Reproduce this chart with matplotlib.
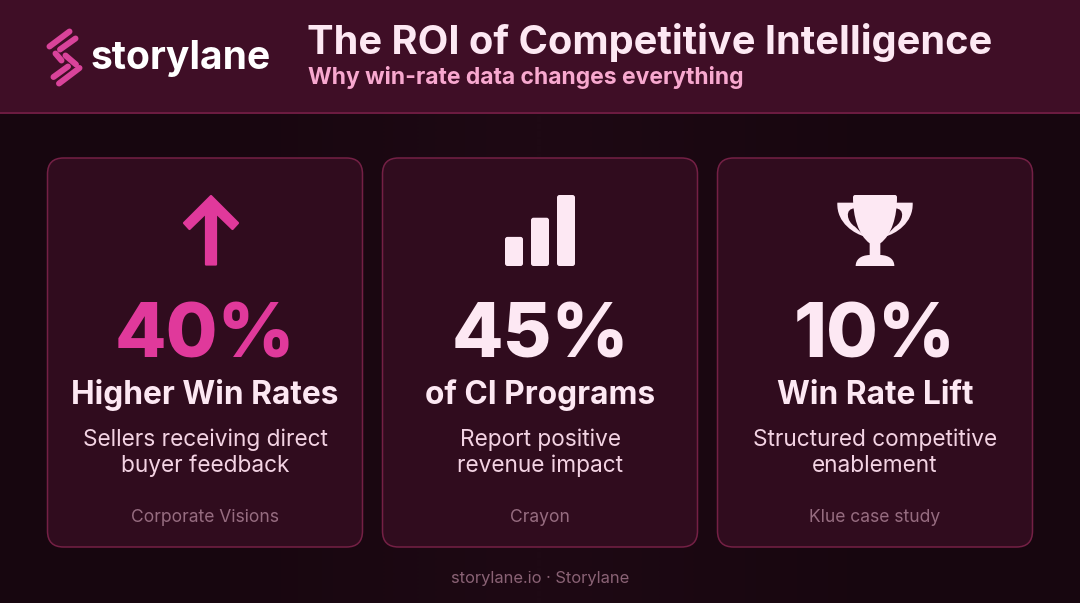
import matplotlib
matplotlib.use("Agg")
import matplotlib.pyplot as plt
import numpy as np
from matplotlib.colors import LinearSegmentedColormap
from matplotlib.patches import FancyBboxPatch, Polygon, PathPatch, Rectangle
from matplotlib.path import Path

plt.rcParams['font.family'] = ['Inter', 'DejaVu Sans']

title = "The ROI of Competitive Intelligence"
subtitle = "Why win-rate data changes everything"
brand = "storylane"
footer = "storylane.io · Storylane"
stats = ["40%", "45%", "10%"]
heads = ["Higher Win Rates", "of CI Programs", "Win Rate Lift"]
bodies = ["Sellers receiving direct\nbuyer feedback", "Report positive\nrevenue impact", "Structured competitive\nenablement"]
sources = ["Corporate Visions", "Crayon", "Klue case study"]
icon_bar_levels = [0.41, 0.68, 1.0]

PINK = "#e0399b"
PALE = "#fde8f3"
W, H = 1080, 603
fig = plt.figure(figsize=(W/100, H/100), dpi=100, facecolor="#1a0812")
ax = fig.add_axes([0, 0, 1, 1])
ax.set_xlim(0, W); ax.set_ylim(H, 0); ax.axis("off")

# background + header
ax.imshow(np.array([[0.0, 1.0, 0.0]]), extent=(0, W, H, 113), aspect="auto", zorder=0,
          interpolation="bilinear",
          cmap=LinearSegmentedColormap.from_list("b", ["#17060f", "#1e0914"]))
ax.set_xlim(0, W); ax.set_ylim(H, 0)
ax.add_patch(Rectangle((0, 0), W, 112, fc="#3f0e26", ec="none", zorder=1))
ax.plot([0, W], [112.5, 112.5], color="#85224f", lw=1.1, zorder=2, solid_capstyle="butt")

# logo
def stroke(x0, y0, x1, y1, c="#d9439a", lw=4.3):
    ax.plot([x0, x1], [y0, y1], color=c, lw=lw, solid_capstyle="round", zorder=3)
stroke(49.5, 46.5, 69.5, 31.5)
stroke(60, 49.5, 75.5, 38.5)
stroke(55.5, 53.5, 61.5, 60.5)
stroke(65.5, 55.5, 76, 64.5)
stroke(53.5, 77, 68, 66.5)
stroke(59, 83.5, 79.5, 68)
ax.text(91, 69, brand, color="white", fontsize=28.1, fontweight="bold", va="baseline", ha="left", zorder=3)

ax.text(307, 54, title, color=PALE, fontsize=28.6, fontweight="bold", va="baseline", ha="left", zorder=3)
ax.text(308, 84, subtitle, color="#f8a8cf", fontsize=16.5, fontweight="bold", va="baseline", ha="left", zorder=3)

# cards
lefts = [47, 382, 717]
card_w, card_top, card_bot = 316, 158, 547
for i, x in enumerate(lefts):
    ax.add_patch(FancyBboxPatch((x + 0.5, card_top), card_w - 1, card_bot - card_top,
                                boxstyle="round,pad=0,rounding_size=16", fc="#300c1e", ec="#742045", lw=1.1, zorder=2))
    cx = x + card_w / 2
    ax.text(cx, 357, stats[i], color=PINK if i == 0 else PALE, fontsize=54, fontweight="heavy",
            va="baseline", ha="center", zorder=3)
    ax.text(cx, 404, heads[i], color=PALE, fontsize=22.8, fontweight="bold", va="baseline", ha="center", zorder=3)
    ax.text(cx, 453, bodies[i], color="#f3d3e3", fontsize=16.3, va="center", ha="center",
            linespacing=1.22, zorder=3)
    ax.text(cx, 517, sources[i], color="#966c80", fontsize=12.6, va="center", ha="center", zorder=3)

# arrow icon
arrow_outline = [(211, 196), (238, 223), (232.5, 229), (216, 213), (216, 264.5), (206, 264.5),
                 (206, 213), (189.5, 229), (184, 223)]
ax.add_patch(Polygon(arrow_outline, closed=True, fc=PINK, ec=PINK, lw=1.6, joinstyle="round", zorder=3))

# bars icon
bar_x = [505, 531, 557]
base, full = 266, 71
for bx, lv in zip(bar_x, icon_bar_levels):
    h = full * lv
    ax.add_patch(FancyBboxPatch((bx + 1.5, base - h + 1.5), 15, h - 3,
                                boxstyle="round,pad=1.5,rounding_size=2.5", fc=PALE, ec="none", zorder=3))

# trophy icon, outline traced in zoom-crop units
def tz(p, s=1):
    return [(875 + s * a / 3, 180 + b / 3) for a, b in p]
M, L, C3, C4 = Path.MOVETO, Path.LINETO, Path.CURVE3, Path.CURVE4
half = [(0, 45), (60, 45), (66, 45), (66, 52), (66, 110), (50, 165), (16, 190),
        (16, 225), (45, 226), (58, 240), (58, 258), (0, 258)]
half_codes = [M, L, C3, C3, C4, C4, C4, L, C4, C4, C4, L]
right = tz(half)
left = tz(half[-2:0:-1], -1)
cup = Path(right + left + [right[0]],
           half_codes + [L, C4, C4, C4, L, C4, C4, C4, C3, C3, L][:len(left)] + [Path.CLOSEPOLY])
ax.add_patch(PathPatch(cup, fc=PALE, ec="none", zorder=3))
handle = [(60, 68), (113, 68), (116, 130), (60, 162), (30, 170), (60, 140), (85, 125), (92, 85), (60, 85), (60, 68)]
handle_codes = [M, L, C4, C4, L, L, C4, C4, L, Path.CLOSEPOLY]
for s in (1, -1):
    ax.add_patch(PathPatch(Path(tz(handle, s), handle_codes), fc=PALE, ec="none", zorder=3))

ax.text(540, 578, footer, color="#8a6275", fontsize=11.9, va="center", ha="center", zorder=3)

fig.savefig("out.png", dpi=100, facecolor=fig.get_facecolor())
